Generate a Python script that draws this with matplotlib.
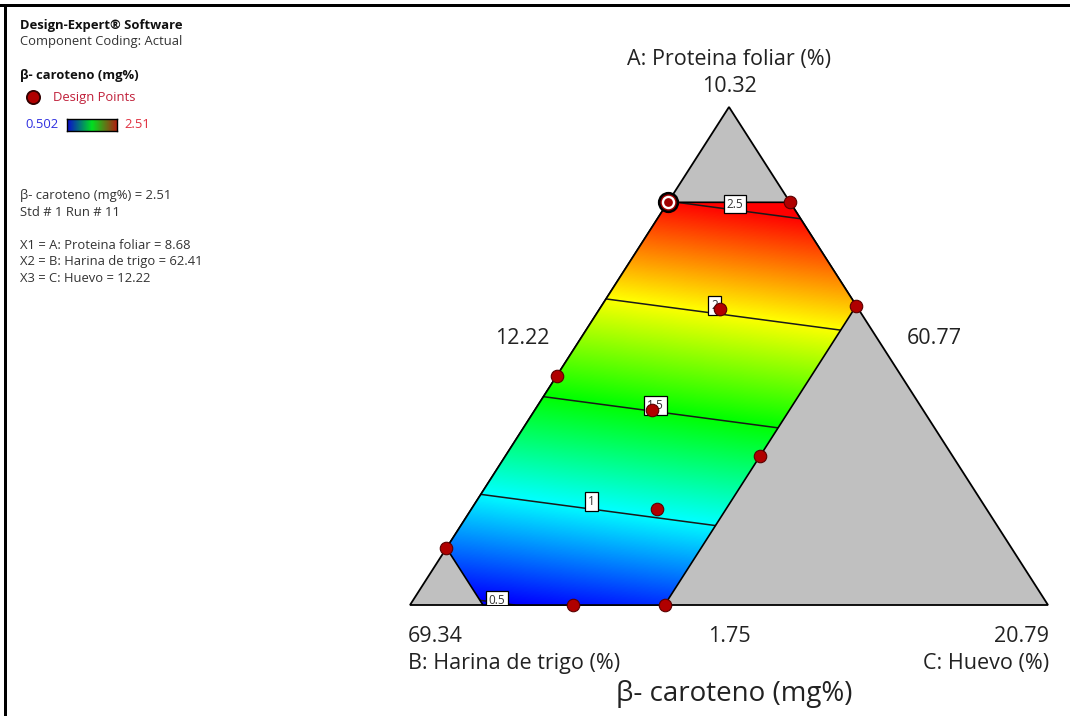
import numpy as np
import matplotlib.pyplot as plt
from matplotlib.colors import LinearSegmentedColormap
from matplotlib.patches import Polygon, Rectangle

plt.rcParams['font.family'] = ['Open Sans', 'DejaVu Sans']

# component ranges (actual %), mixture total
A_lo, A_hi = 1.75, 10.32
B_lo, B_hi = 60.77, 69.34
C_lo, C_hi = 12.22, 20.79
span = A_hi - A_lo

# constrained region corners (actual %)
reg_A = [8.68, 8.68, 6.90, 1.75, 1.75, 2.73]
reg_B = [62.41, 60.77, 60.77, 65.92, 68.36, 68.36]
reg_C = [12.22, 13.86, 15.64, 15.64, 13.20, 12.22]

# design points (actual %)
pts_A = [8.68, 8.68, 6.90, 4.31, 1.75, 1.75, 2.73, 5.69, 6.84, 5.11, 3.40]
pts_B = [62.41, 60.77, 60.77, 63.36, 65.92, 67.15, 68.36, 65.40, 62.63, 64.41, 65.20]
pts_C = [12.22, 13.86, 15.64, 15.64, 15.64, 14.41, 12.22, 12.22, 13.84, 13.79, 14.71]

# linear mixture model (pseudo components) for beta-caroteno
coef_A, coef_B, coef_C = 2.982, 0.434, 0.834
levels = [0.5, 1.0, 1.5, 2.0, 2.5]
level_txt = ['0.5', '1', '1.5', '2', '2.5']
resp_min, resp_max = 0.502, 2.51


def to_xy(A, C):
    a = (np.asarray(A) - A_lo) / span
    c = (np.asarray(C) - C_lo) / span
    return c + a / 2, a


W, H = 1070, 716
fig = plt.figure(figsize=(W / 100, H / 100), dpi=100)
fig.patch.set_facecolor('white')


def px(x, y):
    return x / W, 1 - y / H


# triangle axes: apex (729,107), base 410..1048 at y=605
ax = fig.add_axes([410 / W, (H - 605) / H, 638 / W, 498 / H])
ax.set_xlim(0, 1)
ax.set_ylim(0, 1)
ax.axis('off')

tri = Polygon([(0, 0), (1, 0), (0.5, 1)], closed=True, facecolor='#c0c0c0',
              edgecolor='black', lw=1.3, zorder=1, clip_on=False)
ax.add_patch(tri)

rx, ry = to_xy(reg_A, reg_C)
region = Polygon(list(zip(rx, ry)), closed=True, facecolor='none',
                 edgecolor='black', lw=1.2, zorder=4, clip_on=False)
ax.add_patch(region)

cmap = LinearSegmentedColormap.from_list(
    'de', ['#0000ff', '#00ffff', '#00ff00', '#ffff00', '#ff0000'])

X, Y = np.meshgrid(np.linspace(0, 1, 700), np.linspace(0, 1, 700))
a = Y
c = X - Y / 2
b = 1 - a - c
F = coef_A * a + coef_B * b + coef_C * c

im = ax.imshow(F, origin='lower', extent=(0, 1, 0, 1), cmap=cmap,
               vmin=resp_min, vmax=resp_max, aspect='auto', zorder=2,
               interpolation='bilinear')
im.set_clip_path(region)

cs = ax.contour(X, Y, F, levels=levels, colors='#1a1a1a', linewidths=1.1, zorder=3)
cs.set_clip_path(region)
lab_pos = [(0.1364, 0.006), (0.2853, 0.196), (0.386, 0.402), (0.4796, 0.606), (0.511, 0.812)]
lab_lift = [0.004, 0.015, 0.013, 0.016, 0.012]
labels = ax.clabel(cs, levels=levels, inline=False, manual=lab_pos,
                   fmt=dict(zip(levels, level_txt)), fontsize=8.5, colors='#333333')
for t, lift in zip(labels, lab_lift):
    x0, y0 = t.get_position()
    t.set_position((x0, y0 + lift))
    t.set_rotation(0)
    t.set_zorder(5)
    t.set_bbox(dict(boxstyle='square,pad=0.25', facecolor='white', edgecolor='black', lw=0.9))

# design points
dx, dy = to_xy(pts_A, pts_C)
ax.plot(dx[1:], dy[1:], 'o', ms=9, mfc='#b00000', mec='#5a0000', mew=0.8,
        zorder=6, clip_on=False)
ax.plot(dx[0], dy[0], 'o', ms=13.5, mfc='#a00000', mec='black', mew=1.8, zorder=6, clip_on=False)
ax.plot(dx[0], dy[0], 'o', ms=8, mfc='none', mec='white', mew=1.7, zorder=7, clip_on=False)

# vertex and axis labels
fs = 15.5
col = '#222222'
fig.text(*px(729, 59), 'A: Proteina foliar (%)', ha='center', va='center', fontsize=fs, color=col)
fig.text(*px(729, 87), f'{A_hi:.2f}', ha='center', va='center', fontsize=fs, color=col)
fig.text(*px(522, 338), f'{C_lo:.2f}', ha='center', va='center', fontsize=fs, color=col)
fig.text(*px(934, 338), f'{B_lo:.2f}', ha='center', va='center', fontsize=fs, color=col)
fig.text(*px(408, 636), f'{B_hi:.2f}', ha='left', va='center', fontsize=fs, color=col)
fig.text(*px(729, 636), f'{A_lo:.2f}', ha='center', va='center', fontsize=fs, color=col)
fig.text(*px(1049, 636), f'{C_hi:.2f}', ha='right', va='center', fontsize=fs, color=col)
fig.text(*px(408, 664), 'B: Harina de trigo (%)', ha='left', va='center', fontsize=fs, color=col)
fig.text(*px(1049, 664), 'C: Huevo (%)', ha='right', va='center', fontsize=fs, color=col)
fig.text(*px(734, 694), 'β- caroteno (mg%)', ha='center', va='center', fontsize=20, color=col)

# left info panel
sfs = 9.4
fig.text(*px(20, 25), 'Design-Expert® Software', fontsize=sfs, fontweight='bold', va='center', color='#111111')
fig.text(*px(20, 42), 'Component Coding: Actual', fontsize=sfs, va='center', color='#333333')
fig.text(*px(20, 75), 'β- caroteno (mg%)', fontsize=sfs, fontweight='bold', va='center', color='#111111')
fig.lines.append(plt.Line2D([33 / W], [1 - 97 / H], marker='o', ms=9.5, mfc='#b00000',
                            mec='#300000', mew=1.3, transform=fig.transFigure, figure=fig))
fig.text(*px(53, 97), 'Design Points', fontsize=sfs, va='center', color='#c0203a')
fig.text(*px(25, 125), f'{resp_min:.3f}', fontsize=sfs, va='center', color='#3030e0')
fig.text(*px(124, 125), f'{resp_max:.2f}', fontsize=sfs, va='center', color='#e03040')
cax = fig.add_axes([67 / W, 1 - 131 / H, 50 / W, 12 / H])
cax.imshow(np.linspace(0, 1, 100)[None, :], aspect='auto',
           cmap=LinearSegmentedColormap.from_list('bar', ['#0a0ad0', '#00e020', '#b02010']))
cax.set_xticks([])
cax.set_yticks([])
for s in cax.spines.values():
    s.set_linewidth(1.0)

info = ['β- caroteno (mg%) = 2.51', 'Std # 1 Run # 11', '',
        f'X1 = A: Proteina foliar = {pts_A[0]:.2f}',
        f'X2 = B: Harina de trigo = {pts_B[0]:.2f}',
        f'X3 = C: Huevo = {pts_C[0]:.2f}']
for i, line in enumerate(info):
    fig.text(*px(20, 196 + i * 16.5), line, fontsize=sfs, va='center', color='#333333')

# frame lines at top and left
fig.patches.append(Rectangle((0, 1 - 7 / H), 1, 3 / H, transform=fig.transFigure,
                             facecolor='black', edgecolor='none', figure=fig))
fig.patches.append(Rectangle((4 / W, 0), 3 / W, 1 - 4 / H, transform=fig.transFigure,
                             facecolor='black', edgecolor='none', figure=fig))

fig.savefig('out.png', dpi=100)
